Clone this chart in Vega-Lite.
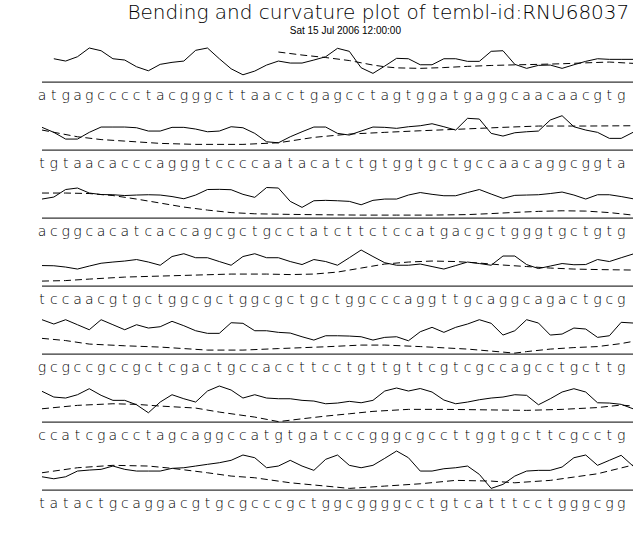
{
"$schema": "https://vega.github.io/schema/vega-lite/v6.json",
"padding": {"left": 37, "top": 3, "right": 0, "bottom": 0},
"background": "white",
"title": {"text": "Bending and curvature plot of tembl-id:RNU68037", "fontSize": 20, "font": "DejaVu Sans", "fontWeight": 200, "anchor": "middle", "dx": 42, "offset": 2.5, "color": "black"},
"config": {"view": {"stroke": null}, "facet": {"spacing": 0}},
"data": {"values": [
{"r":1,"k":"b","p":1,"v":23.3},{"r":1,"k":"b","p":2,"v":21},{"r":1,"k":"b","p":3,"v":25.3},{"r":1,"k":"b","p":4,"v":34},{"r":1,"k":"b","p":5,"v":31.3},{"r":1,"k":"b","p":6,"v":23.3},{"r":1,"k":"b","p":7,"v":22},{"r":1,"k":"b","p":8,"v":15.3},{"r":1,"k":"b","p":9,"v":11.3},{"r":1,"k":"b","p":10,"v":17.7},{"r":1,"k":"b","p":11,"v":19.7},{"r":1,"k":"b","p":12,"v":21},{"r":1,"k":"b","p":13,"v":31.7},{"r":1,"k":"b","p":14,"v":34},{"r":1,"k":"b","p":15,"v":23.3},{"r":1,"k":"b","p":16,"v":13.3},{"r":1,"k":"b","p":17,"v":7.3},{"r":1,"k":"b","p":18,"v":11},{"r":1,"k":"b","p":19,"v":17},{"r":1,"k":"b","p":20,"v":21},{"r":1,"k":"b","p":21,"v":19},{"r":1,"k":"b","p":22,"v":19},{"r":1,"k":"b","p":23,"v":22},{"r":1,"k":"b","p":24,"v":25.3},{"r":1,"k":"b","p":25,"v":33.7},{"r":1,"k":"b","p":26,"v":30.7},{"r":1,"k":"b","p":27,"v":14.3},{"r":1,"k":"b","p":28,"v":8.7},{"r":1,"k":"b","p":29,"v":16},{"r":1,"k":"b","p":30,"v":23.7},{"r":1,"k":"b","p":31,"v":23.3},{"r":1,"k":"b","p":32,"v":17.3},{"r":1,"k":"b","p":33,"v":17.3},{"r":1,"k":"b","p":34,"v":23.3},{"r":1,"k":"b","p":35,"v":23.3},{"r":1,"k":"b","p":36,"v":20.7},{"r":1,"k":"b","p":37,"v":20.7},{"r":1,"k":"b","p":38,"v":30.7},{"r":1,"k":"b","p":39,"v":31.3},{"r":1,"k":"b","p":40,"v":17.7},{"r":1,"k":"b","p":41,"v":13.7},{"r":1,"k":"b","p":42,"v":16.7},{"r":1,"k":"b","p":43,"v":17},{"r":1,"k":"b","p":44,"v":13.7},{"r":1,"k":"b","p":45,"v":17.3},{"r":1,"k":"b","p":46,"v":20.7},{"r":1,"k":"b","p":47,"v":23.3},{"r":1,"k":"b","p":48,"v":22.7},{"r":1,"k":"b","p":49,"v":22.7},{"r":1,"k":"b","p":50,"v":22.7},
{"r":1,"k":"c","p":20,"v":30},{"r":1,"k":"c","p":22,"v":27},{"r":1,"k":"c","p":24,"v":24.5},{"r":1,"k":"c","p":26,"v":21.5},{"r":1,"k":"c","p":28,"v":17},{"r":1,"k":"c","p":29,"v":15.3},{"r":1,"k":"c","p":30,"v":14.2},{"r":1,"k":"c","p":32,"v":13.7},{"r":1,"k":"c","p":34,"v":14.5},{"r":1,"k":"c","p":36,"v":15.7},{"r":1,"k":"c","p":38,"v":16.6},{"r":1,"k":"c","p":40,"v":17.2},{"r":1,"k":"c","p":42,"v":17.7},{"r":1,"k":"c","p":44,"v":18.3},{"r":1,"k":"c","p":46,"v":19.2},{"r":1,"k":"c","p":48,"v":20},{"r":1,"k":"c","p":50,"v":18.7},
{"r":2,"k":"b","p":0,"v":22.7},{"r":2,"k":"b","p":1,"v":17.7},{"r":2,"k":"b","p":2,"v":11},{"r":2,"k":"b","p":3,"v":11},{"r":2,"k":"b","p":4,"v":17.7},{"r":2,"k":"b","p":5,"v":23},{"r":2,"k":"b","p":6,"v":23},{"r":2,"k":"b","p":7,"v":23},{"r":2,"k":"b","p":8,"v":22.3},{"r":2,"k":"b","p":9,"v":19},{"r":2,"k":"b","p":10,"v":19},{"r":2,"k":"b","p":11,"v":22.7},{"r":2,"k":"b","p":12,"v":22.7},{"r":2,"k":"b","p":13,"v":21},{"r":2,"k":"b","p":14,"v":18.3},{"r":2,"k":"b","p":15,"v":19},{"r":2,"k":"b","p":16,"v":23.3},{"r":2,"k":"b","p":17,"v":22.3},{"r":2,"k":"b","p":18,"v":16.7},{"r":2,"k":"b","p":19,"v":8.3},{"r":2,"k":"b","p":20,"v":7.3},{"r":2,"k":"b","p":21,"v":13.3},{"r":2,"k":"b","p":22,"v":18.3},{"r":2,"k":"b","p":23,"v":23},{"r":2,"k":"b","p":24,"v":23},{"r":2,"k":"b","p":25,"v":16.7},{"r":2,"k":"b","p":26,"v":15},{"r":2,"k":"b","p":27,"v":19},{"r":2,"k":"b","p":28,"v":23},{"r":2,"k":"b","p":29,"v":22.7},{"r":2,"k":"b","p":30,"v":21.7},{"r":2,"k":"b","p":31,"v":23.3},{"r":2,"k":"b","p":32,"v":24.3},{"r":2,"k":"b","p":33,"v":26.3},{"r":2,"k":"b","p":34,"v":23.3},{"r":2,"k":"b","p":35,"v":20},{"r":2,"k":"b","p":36,"v":31.7},{"r":2,"k":"b","p":37,"v":31},{"r":2,"k":"b","p":38,"v":16.7},{"r":2,"k":"b","p":39,"v":14},{"r":2,"k":"b","p":40,"v":17.3},{"r":2,"k":"b","p":41,"v":18.3},{"r":2,"k":"b","p":42,"v":19},{"r":2,"k":"b","p":43,"v":30},{"r":2,"k":"b","p":44,"v":34.3},{"r":2,"k":"b","p":45,"v":23.3},{"r":2,"k":"b","p":46,"v":20},{"r":2,"k":"b","p":47,"v":17.7},{"r":2,"k":"b","p":48,"v":11.7},{"r":2,"k":"b","p":49,"v":11.7},{"r":2,"k":"b","p":50,"v":17.7},
{"r":2,"k":"c","p":0,"v":20},{"r":2,"k":"c","p":3,"v":13.3},{"r":2,"k":"c","p":5,"v":10.5},{"r":2,"k":"c","p":7,"v":9},{"r":2,"k":"c","p":10,"v":6.7},{"r":2,"k":"c","p":13,"v":5.7},{"r":2,"k":"c","p":17,"v":5.7},{"r":2,"k":"c","p":20,"v":7.3},{"r":2,"k":"c","p":23,"v":12.7},{"r":2,"k":"c","p":26,"v":16},{"r":2,"k":"c","p":29,"v":17.7},{"r":2,"k":"c","p":32,"v":19.3},{"r":2,"k":"c","p":35,"v":20.7},{"r":2,"k":"c","p":39,"v":22.7},{"r":2,"k":"c","p":42,"v":24},{"r":2,"k":"c","p":46,"v":24},{"r":2,"k":"c","p":50,"v":24.3},
{"r":3,"k":"b","p":0,"v":19},{"r":3,"k":"b","p":1,"v":21},{"r":3,"k":"b","p":2,"v":28.5},{"r":3,"k":"b","p":3,"v":30},{"r":3,"k":"b","p":4,"v":25},{"r":3,"k":"b","p":5,"v":23.5},{"r":3,"k":"b","p":6,"v":23.3},{"r":3,"k":"b","p":7,"v":22.5},{"r":3,"k":"b","p":8,"v":23},{"r":3,"k":"b","p":9,"v":23.3},{"r":3,"k":"b","p":10,"v":23},{"r":3,"k":"b","p":11,"v":21.5},{"r":3,"k":"b","p":12,"v":19.3},{"r":3,"k":"b","p":13,"v":23},{"r":3,"k":"b","p":14,"v":28.5},{"r":3,"k":"b","p":15,"v":28.7},{"r":3,"k":"b","p":16,"v":28.3},{"r":3,"k":"b","p":17,"v":23.7},{"r":3,"k":"b","p":18,"v":20.7},{"r":3,"k":"b","p":19,"v":30.5},{"r":3,"k":"b","p":20,"v":30},{"r":3,"k":"b","p":21,"v":16.7},{"r":3,"k":"b","p":22,"v":10.7},{"r":3,"k":"b","p":23,"v":17.3},{"r":3,"k":"b","p":24,"v":17.7},{"r":3,"k":"b","p":25,"v":17.3},{"r":3,"k":"b","p":26,"v":16.7},{"r":3,"k":"b","p":27,"v":13.3},{"r":3,"k":"b","p":28,"v":17.7},{"r":3,"k":"b","p":29,"v":19},{"r":3,"k":"b","p":30,"v":19},{"r":3,"k":"b","p":31,"v":23},{"r":3,"k":"b","p":32,"v":25.5},{"r":3,"k":"b","p":33,"v":23.7},{"r":3,"k":"b","p":34,"v":22.3},{"r":3,"k":"b","p":35,"v":22.3},{"r":3,"k":"b","p":36,"v":25.5},{"r":3,"k":"b","p":37,"v":28.5},{"r":3,"k":"b","p":38,"v":24},{"r":3,"k":"b","p":39,"v":19.7},{"r":3,"k":"b","p":40,"v":22.7},{"r":3,"k":"b","p":41,"v":23},{"r":3,"k":"b","p":42,"v":23.3},{"r":3,"k":"b","p":43,"v":24.5},{"r":3,"k":"b","p":44,"v":26},{"r":3,"k":"b","p":45,"v":23},{"r":3,"k":"b","p":46,"v":19},{"r":3,"k":"b","p":47,"v":23.3},{"r":3,"k":"b","p":48,"v":23.3},{"r":3,"k":"b","p":49,"v":21.5},{"r":3,"k":"b","p":50,"v":19.3},
{"r":3,"k":"c","p":0,"v":25},{"r":3,"k":"c","p":2,"v":25},{"r":3,"k":"c","p":4,"v":24.5},{"r":3,"k":"c","p":6,"v":22.5},{"r":3,"k":"c","p":8,"v":19},{"r":3,"k":"c","p":10,"v":15},{"r":3,"k":"c","p":12,"v":11},{"r":3,"k":"c","p":14,"v":8},{"r":3,"k":"c","p":16,"v":5.5},{"r":3,"k":"c","p":18,"v":4.3},{"r":3,"k":"c","p":21,"v":3.7},{"r":3,"k":"c","p":24,"v":3.3},{"r":3,"k":"c","p":27,"v":3},{"r":3,"k":"c","p":30,"v":3},{"r":3,"k":"c","p":33,"v":3},{"r":3,"k":"c","p":36,"v":3.5},{"r":3,"k":"c","p":38,"v":4.5},{"r":3,"k":"c","p":40,"v":5.7},{"r":3,"k":"c","p":42,"v":6.7},{"r":3,"k":"c","p":44,"v":7.3},{"r":3,"k":"c","p":46,"v":7},{"r":3,"k":"c","p":48,"v":5.5},{"r":3,"k":"c","p":50,"v":3},
{"r":4,"k":"b","p":0,"v":20.5},{"r":4,"k":"b","p":1,"v":20.3},{"r":4,"k":"b","p":2,"v":19},{"r":4,"k":"b","p":3,"v":17},{"r":4,"k":"b","p":4,"v":20},{"r":4,"k":"b","p":5,"v":22.8},{"r":4,"k":"b","p":6,"v":24},{"r":4,"k":"b","p":7,"v":25},{"r":4,"k":"b","p":8,"v":26.5},{"r":4,"k":"b","p":9,"v":24},{"r":4,"k":"b","p":10,"v":20.8},{"r":4,"k":"b","p":11,"v":29.5},{"r":4,"k":"b","p":12,"v":32.3},{"r":4,"k":"b","p":13,"v":28.3},{"r":4,"k":"b","p":14,"v":28.3},{"r":4,"k":"b","p":15,"v":24.5},{"r":4,"k":"b","p":16,"v":20.8},{"r":4,"k":"b","p":17,"v":29.5},{"r":4,"k":"b","p":18,"v":32.3},{"r":4,"k":"b","p":19,"v":28.3},{"r":4,"k":"b","p":20,"v":28.3},{"r":4,"k":"b","p":21,"v":24.5},{"r":4,"k":"b","p":22,"v":21.5},{"r":4,"k":"b","p":23,"v":26.5},{"r":4,"k":"b","p":24,"v":24.5},{"r":4,"k":"b","p":25,"v":20.8},{"r":4,"k":"b","p":26,"v":28.3},{"r":4,"k":"b","p":27,"v":36},{"r":4,"k":"b","p":28,"v":29.5},{"r":4,"k":"b","p":29,"v":23.3},{"r":4,"k":"b","p":30,"v":20.8},{"r":4,"k":"b","p":31,"v":20.8},{"r":4,"k":"b","p":32,"v":22},{"r":4,"k":"b","p":33,"v":19.5},{"r":4,"k":"b","p":34,"v":17},{"r":4,"k":"b","p":35,"v":20.5},{"r":4,"k":"b","p":36,"v":24},{"r":4,"k":"b","p":37,"v":22.5},{"r":4,"k":"b","p":38,"v":20.8},{"r":4,"k":"b","p":39,"v":30},{"r":4,"k":"b","p":40,"v":30},{"r":4,"k":"b","p":41,"v":21.5},{"r":4,"k":"b","p":42,"v":17.5},{"r":4,"k":"b","p":43,"v":20},{"r":4,"k":"b","p":44,"v":22.5},{"r":4,"k":"b","p":45,"v":21.3},{"r":4,"k":"b","p":46,"v":21.5},{"r":4,"k":"b","p":47,"v":26.5},{"r":4,"k":"b","p":48,"v":24.5},{"r":4,"k":"b","p":49,"v":28.3},{"r":4,"k":"b","p":50,"v":32},
{"r":4,"k":"c","p":0,"v":5},{"r":4,"k":"c","p":2,"v":5.5},{"r":4,"k":"c","p":4,"v":7},{"r":4,"k":"c","p":7,"v":9},{"r":4,"k":"c","p":10,"v":10},{"r":4,"k":"c","p":13,"v":11},{"r":4,"k":"c","p":16,"v":12},{"r":4,"k":"c","p":19,"v":12},{"r":4,"k":"c","p":21,"v":11.5},{"r":4,"k":"c","p":23,"v":12},{"r":4,"k":"c","p":25,"v":14},{"r":4,"k":"c","p":27,"v":18},{"r":4,"k":"c","p":29,"v":22},{"r":4,"k":"c","p":31,"v":24},{"r":4,"k":"c","p":33,"v":25},{"r":4,"k":"c","p":35,"v":24.5},{"r":4,"k":"c","p":37,"v":23},{"r":4,"k":"c","p":39,"v":21},{"r":4,"k":"c","p":41,"v":19.5},{"r":4,"k":"c","p":43,"v":18},{"r":4,"k":"c","p":45,"v":17},{"r":4,"k":"c","p":47,"v":16.5},{"r":4,"k":"c","p":50,"v":16},
{"r":5,"k":"b","p":0,"v":34.3},{"r":5,"k":"b","p":1,"v":30},{"r":5,"k":"b","p":2,"v":34.3},{"r":5,"k":"b","p":3,"v":29.3},{"r":5,"k":"b","p":4,"v":24.3},{"r":5,"k":"b","p":5,"v":34.3},{"r":5,"k":"b","p":6,"v":29.3},{"r":5,"k":"b","p":7,"v":24.3},{"r":5,"k":"b","p":8,"v":29.3},{"r":5,"k":"b","p":9,"v":26},{"r":5,"k":"b","p":10,"v":27.3},{"r":5,"k":"b","p":11,"v":32.7},{"r":5,"k":"b","p":12,"v":28.3},{"r":5,"k":"b","p":13,"v":23.3},{"r":5,"k":"b","p":14,"v":20.7},{"r":5,"k":"b","p":15,"v":20.7},{"r":5,"k":"b","p":16,"v":31.3},{"r":5,"k":"b","p":17,"v":30.7},{"r":5,"k":"b","p":18,"v":23.3},{"r":5,"k":"b","p":19,"v":23.3},{"r":5,"k":"b","p":20,"v":21.7},{"r":5,"k":"b","p":21,"v":21},{"r":5,"k":"b","p":22,"v":17.3},{"r":5,"k":"b","p":23,"v":14},{"r":5,"k":"b","p":24,"v":18.3},{"r":5,"k":"b","p":25,"v":18.3},{"r":5,"k":"b","p":26,"v":18},{"r":5,"k":"b","p":27,"v":17.3},{"r":5,"k":"b","p":28,"v":14},{"r":5,"k":"b","p":29,"v":16.7},{"r":5,"k":"b","p":30,"v":17.3},{"r":5,"k":"b","p":31,"v":13.3},{"r":5,"k":"b","p":32,"v":22.3},{"r":5,"k":"b","p":33,"v":26.7},{"r":5,"k":"b","p":34,"v":21.7},{"r":5,"k":"b","p":35,"v":26.7},{"r":5,"k":"b","p":36,"v":30},{"r":5,"k":"b","p":37,"v":34.3},{"r":5,"k":"b","p":38,"v":30.7},{"r":5,"k":"b","p":39,"v":19},{"r":5,"k":"b","p":40,"v":23.3},{"r":5,"k":"b","p":41,"v":34.3},{"r":5,"k":"b","p":42,"v":31},{"r":5,"k":"b","p":43,"v":19},{"r":5,"k":"b","p":44,"v":20},{"r":5,"k":"b","p":45,"v":26},{"r":5,"k":"b","p":46,"v":25},{"r":5,"k":"b","p":47,"v":16.7},{"r":5,"k":"b","p":48,"v":18.3},{"r":5,"k":"b","p":49,"v":31.7},{"r":5,"k":"b","p":50,"v":31},
{"r":5,"k":"c","p":0,"v":15.7},{"r":5,"k":"c","p":2,"v":13.5},{"r":5,"k":"c","p":4,"v":10},{"r":5,"k":"c","p":7,"v":8.3},{"r":5,"k":"c","p":10,"v":7},{"r":5,"k":"c","p":12,"v":5.5},{"r":5,"k":"c","p":14,"v":4},{"r":5,"k":"c","p":17,"v":4},{"r":5,"k":"c","p":20,"v":5.5},{"r":5,"k":"c","p":24,"v":7.3},{"r":5,"k":"c","p":27,"v":9},{"r":5,"k":"c","p":29,"v":9},{"r":5,"k":"c","p":32,"v":7.5},{"r":5,"k":"c","p":36,"v":5},{"r":5,"k":"c","p":39,"v":2},{"r":5,"k":"c","p":40,"v":1},{"r":5,"k":"c","p":41,"v":2.5},{"r":5,"k":"c","p":43,"v":5},{"r":5,"k":"c","p":45,"v":6.5},{"r":5,"k":"c","p":47,"v":7.5},{"r":5,"k":"c","p":49,"v":10.5},{"r":5,"k":"c","p":50,"v":12.7},
{"r":6,"k":"b","p":0,"v":30.7},{"r":6,"k":"b","p":1,"v":25},{"r":6,"k":"b","p":2,"v":24},{"r":6,"k":"b","p":3,"v":27.3},{"r":6,"k":"b","p":4,"v":33.3},{"r":6,"k":"b","p":5,"v":26.7},{"r":6,"k":"b","p":6,"v":21.7},{"r":6,"k":"b","p":7,"v":21.7},{"r":6,"k":"b","p":8,"v":17.3},{"r":6,"k":"b","p":9,"v":9.3},{"r":6,"k":"b","p":10,"v":20},{"r":6,"k":"b","p":11,"v":27.3},{"r":6,"k":"b","p":12,"v":23.3},{"r":6,"k":"b","p":13,"v":20},{"r":6,"k":"b","p":14,"v":31},{"r":6,"k":"b","p":15,"v":36},{"r":6,"k":"b","p":16,"v":32},{"r":6,"k":"b","p":17,"v":24},{"r":6,"k":"b","p":18,"v":27.3},{"r":6,"k":"b","p":19,"v":24},{"r":6,"k":"b","p":20,"v":23.3},{"r":6,"k":"b","p":21,"v":23.3},{"r":6,"k":"b","p":22,"v":21.7},{"r":6,"k":"b","p":23,"v":21},{"r":6,"k":"b","p":24,"v":18.3},{"r":6,"k":"b","p":25,"v":19},{"r":6,"k":"b","p":26,"v":20.7},{"r":6,"k":"b","p":27,"v":19.3},{"r":6,"k":"b","p":28,"v":21.7},{"r":6,"k":"b","p":29,"v":31},{"r":6,"k":"b","p":30,"v":34},{"r":6,"k":"b","p":31,"v":31},{"r":6,"k":"b","p":32,"v":33.5},{"r":6,"k":"b","p":33,"v":30},{"r":6,"k":"b","p":34,"v":22},{"r":6,"k":"b","p":35,"v":18.3},{"r":6,"k":"b","p":36,"v":20},{"r":6,"k":"b","p":37,"v":22.3},{"r":6,"k":"b","p":38,"v":24},{"r":6,"k":"b","p":39,"v":25},{"r":6,"k":"b","p":40,"v":27.3},{"r":6,"k":"b","p":41,"v":26.7},{"r":6,"k":"b","p":42,"v":17.3},{"r":6,"k":"b","p":43,"v":23.3},{"r":6,"k":"b","p":44,"v":30},{"r":6,"k":"b","p":45,"v":33.3},{"r":6,"k":"b","p":46,"v":30},{"r":6,"k":"b","p":47,"v":19.3},{"r":6,"k":"b","p":48,"v":19},{"r":6,"k":"b","p":49,"v":17.7},{"r":6,"k":"b","p":50,"v":13.3},
{"r":6,"k":"c","p":0,"v":13.3},{"r":6,"k":"c","p":3,"v":16.7},{"r":6,"k":"c","p":6,"v":18.3},{"r":6,"k":"c","p":8,"v":17.7},{"r":6,"k":"c","p":10,"v":16},{"r":6,"k":"c","p":13,"v":14},{"r":6,"k":"c","p":15,"v":10},{"r":6,"k":"c","p":18,"v":5},{"r":6,"k":"c","p":20,"v":0.5},{"r":6,"k":"c","p":22,"v":3.3},{"r":6,"k":"c","p":24,"v":6},{"r":6,"k":"c","p":26,"v":8.3},{"r":6,"k":"c","p":28,"v":10.7},{"r":6,"k":"c","p":31,"v":12.7},{"r":6,"k":"c","p":34,"v":12.7},{"r":6,"k":"c","p":37,"v":12.3},{"r":6,"k":"c","p":41,"v":11.7},{"r":6,"k":"c","p":44,"v":12.7},{"r":6,"k":"c","p":47,"v":14.5},{"r":6,"k":"c","p":49,"v":17},{"r":6,"k":"c","p":50,"v":16},
{"r":7,"k":"b","p":0,"v":13.3},{"r":7,"k":"b","p":1,"v":11.3},{"r":7,"k":"b","p":2,"v":13.3},{"r":7,"k":"b","p":3,"v":19},{"r":7,"k":"b","p":4,"v":20},{"r":7,"k":"b","p":5,"v":20.7},{"r":7,"k":"b","p":6,"v":24},{"r":7,"k":"b","p":7,"v":20.7},{"r":7,"k":"b","p":8,"v":19},{"r":7,"k":"b","p":9,"v":19},{"r":7,"k":"b","p":10,"v":19},{"r":7,"k":"b","p":11,"v":21.7},{"r":7,"k":"b","p":12,"v":22.3},{"r":7,"k":"b","p":13,"v":24},{"r":7,"k":"b","p":14,"v":25.7},{"r":7,"k":"b","p":15,"v":27.3},{"r":7,"k":"b","p":16,"v":29.7},{"r":7,"k":"b","p":17,"v":35},{"r":7,"k":"b","p":18,"v":32.3},{"r":7,"k":"b","p":19,"v":22.3},{"r":7,"k":"b","p":20,"v":24},{"r":7,"k":"b","p":21,"v":29.7},{"r":7,"k":"b","p":22,"v":24},{"r":7,"k":"b","p":23,"v":19.7},{"r":7,"k":"b","p":24,"v":30.7},{"r":7,"k":"b","p":25,"v":35},{"r":7,"k":"b","p":26,"v":24.7},{"r":7,"k":"b","p":27,"v":22.3},{"r":7,"k":"b","p":28,"v":24.7},{"r":7,"k":"b","p":29,"v":31.7},{"r":7,"k":"b","p":30,"v":39},{"r":7,"k":"b","p":31,"v":32.3},{"r":7,"k":"b","p":32,"v":19},{"r":7,"k":"b","p":33,"v":19},{"r":7,"k":"b","p":34,"v":21.3},{"r":7,"k":"b","p":35,"v":22.3},{"r":7,"k":"b","p":36,"v":24},{"r":7,"k":"b","p":37,"v":15.7},{"r":7,"k":"b","p":38,"v":1.7},{"r":7,"k":"b","p":39,"v":5.7},{"r":7,"k":"b","p":40,"v":14},{"r":7,"k":"b","p":41,"v":19},{"r":7,"k":"b","p":42,"v":19.7},{"r":7,"k":"b","p":43,"v":19.7},{"r":7,"k":"b","p":44,"v":23},{"r":7,"k":"b","p":45,"v":32.3},{"r":7,"k":"b","p":46,"v":35},{"r":7,"k":"b","p":47,"v":24.7},{"r":7,"k":"b","p":48,"v":29.7},{"r":7,"k":"b","p":49,"v":34.7},{"r":7,"k":"b","p":50,"v":24},
{"r":7,"k":"c","p":0,"v":17.3},{"r":7,"k":"c","p":3,"v":22.3},{"r":7,"k":"c","p":6,"v":24.7},{"r":7,"k":"c","p":9,"v":24},{"r":7,"k":"c","p":11,"v":21.7},{"r":7,"k":"c","p":14,"v":17.3},{"r":7,"k":"c","p":16,"v":14},{"r":7,"k":"c","p":18,"v":12.3},{"r":7,"k":"c","p":21,"v":7.3},{"r":7,"k":"c","p":24,"v":4},{"r":7,"k":"c","p":26,"v":1.7},{"r":7,"k":"c","p":29,"v":4},{"r":7,"k":"c","p":32,"v":6.3},{"r":7,"k":"c","p":35,"v":9.7},{"r":7,"k":"c","p":38,"v":9},{"r":7,"k":"c","p":40,"v":7.3},{"r":7,"k":"c","p":43,"v":9.7},{"r":7,"k":"c","p":45,"v":13},{"r":7,"k":"c","p":47,"v":16.3},{"r":7,"k":"c","p":50,"v":25},
{"r":1,"k":"s","p":0,"b":"a"},{"r":1,"k":"s","p":1,"b":"t"},{"r":1,"k":"s","p":2,"b":"g"},{"r":1,"k":"s","p":3,"b":"a"},{"r":1,"k":"s","p":4,"b":"g"},{"r":1,"k":"s","p":5,"b":"c"},{"r":1,"k":"s","p":6,"b":"c"},{"r":1,"k":"s","p":7,"b":"c"},{"r":1,"k":"s","p":8,"b":"c"},{"r":1,"k":"s","p":9,"b":"t"},{"r":1,"k":"s","p":10,"b":"a"},{"r":1,"k":"s","p":11,"b":"c"},{"r":1,"k":"s","p":12,"b":"g"},{"r":1,"k":"s","p":13,"b":"g"},{"r":1,"k":"s","p":14,"b":"g"},{"r":1,"k":"s","p":15,"b":"c"},{"r":1,"k":"s","p":16,"b":"t"},{"r":1,"k":"s","p":17,"b":"t"},{"r":1,"k":"s","p":18,"b":"a"},{"r":1,"k":"s","p":19,"b":"a"},{"r":1,"k":"s","p":20,"b":"c"},{"r":1,"k":"s","p":21,"b":"c"},{"r":1,"k":"s","p":22,"b":"t"},{"r":1,"k":"s","p":23,"b":"g"},{"r":1,"k":"s","p":24,"b":"a"},{"r":1,"k":"s","p":25,"b":"g"},{"r":1,"k":"s","p":26,"b":"c"},{"r":1,"k":"s","p":27,"b":"c"},{"r":1,"k":"s","p":28,"b":"t"},{"r":1,"k":"s","p":29,"b":"a"},{"r":1,"k":"s","p":30,"b":"g"},{"r":1,"k":"s","p":31,"b":"t"},{"r":1,"k":"s","p":32,"b":"g"},{"r":1,"k":"s","p":33,"b":"g"},{"r":1,"k":"s","p":34,"b":"a"},{"r":1,"k":"s","p":35,"b":"t"},{"r":1,"k":"s","p":36,"b":"g"},{"r":1,"k":"s","p":37,"b":"a"},{"r":1,"k":"s","p":38,"b":"g"},{"r":1,"k":"s","p":39,"b":"g"},{"r":1,"k":"s","p":40,"b":"c"},{"r":1,"k":"s","p":41,"b":"a"},{"r":1,"k":"s","p":42,"b":"a"},{"r":1,"k":"s","p":43,"b":"c"},{"r":1,"k":"s","p":44,"b":"a"},{"r":1,"k":"s","p":45,"b":"a"},{"r":1,"k":"s","p":46,"b":"c"},{"r":1,"k":"s","p":47,"b":"g"},{"r":1,"k":"s","p":48,"b":"t"},{"r":1,"k":"s","p":49,"b":"g"},
{"r":2,"k":"s","p":0,"b":"t"},{"r":2,"k":"s","p":1,"b":"g"},{"r":2,"k":"s","p":2,"b":"t"},{"r":2,"k":"s","p":3,"b":"a"},{"r":2,"k":"s","p":4,"b":"a"},{"r":2,"k":"s","p":5,"b":"c"},{"r":2,"k":"s","p":6,"b":"a"},{"r":2,"k":"s","p":7,"b":"c"},{"r":2,"k":"s","p":8,"b":"c"},{"r":2,"k":"s","p":9,"b":"c"},{"r":2,"k":"s","p":10,"b":"a"},{"r":2,"k":"s","p":11,"b":"g"},{"r":2,"k":"s","p":12,"b":"g"},{"r":2,"k":"s","p":13,"b":"g"},{"r":2,"k":"s","p":14,"b":"t"},{"r":2,"k":"s","p":15,"b":"c"},{"r":2,"k":"s","p":16,"b":"c"},{"r":2,"k":"s","p":17,"b":"c"},{"r":2,"k":"s","p":18,"b":"c"},{"r":2,"k":"s","p":19,"b":"a"},{"r":2,"k":"s","p":20,"b":"a"},{"r":2,"k":"s","p":21,"b":"t"},{"r":2,"k":"s","p":22,"b":"a"},{"r":2,"k":"s","p":23,"b":"c"},{"r":2,"k":"s","p":24,"b":"a"},{"r":2,"k":"s","p":25,"b":"t"},{"r":2,"k":"s","p":26,"b":"c"},{"r":2,"k":"s","p":27,"b":"t"},{"r":2,"k":"s","p":28,"b":"g"},{"r":2,"k":"s","p":29,"b":"t"},{"r":2,"k":"s","p":30,"b":"g"},{"r":2,"k":"s","p":31,"b":"g"},{"r":2,"k":"s","p":32,"b":"t"},{"r":2,"k":"s","p":33,"b":"g"},{"r":2,"k":"s","p":34,"b":"c"},{"r":2,"k":"s","p":35,"b":"t"},{"r":2,"k":"s","p":36,"b":"g"},{"r":2,"k":"s","p":37,"b":"c"},{"r":2,"k":"s","p":38,"b":"c"},{"r":2,"k":"s","p":39,"b":"a"},{"r":2,"k":"s","p":40,"b":"a"},{"r":2,"k":"s","p":41,"b":"c"},{"r":2,"k":"s","p":42,"b":"a"},{"r":2,"k":"s","p":43,"b":"g"},{"r":2,"k":"s","p":44,"b":"g"},{"r":2,"k":"s","p":45,"b":"c"},{"r":2,"k":"s","p":46,"b":"g"},{"r":2,"k":"s","p":47,"b":"g"},{"r":2,"k":"s","p":48,"b":"t"},{"r":2,"k":"s","p":49,"b":"a"},
{"r":3,"k":"s","p":0,"b":"a"},{"r":3,"k":"s","p":1,"b":"c"},{"r":3,"k":"s","p":2,"b":"g"},{"r":3,"k":"s","p":3,"b":"g"},{"r":3,"k":"s","p":4,"b":"c"},{"r":3,"k":"s","p":5,"b":"a"},{"r":3,"k":"s","p":6,"b":"c"},{"r":3,"k":"s","p":7,"b":"a"},{"r":3,"k":"s","p":8,"b":"t"},{"r":3,"k":"s","p":9,"b":"c"},{"r":3,"k":"s","p":10,"b":"a"},{"r":3,"k":"s","p":11,"b":"c"},{"r":3,"k":"s","p":12,"b":"c"},{"r":3,"k":"s","p":13,"b":"a"},{"r":3,"k":"s","p":14,"b":"g"},{"r":3,"k":"s","p":15,"b":"c"},{"r":3,"k":"s","p":16,"b":"g"},{"r":3,"k":"s","p":17,"b":"c"},{"r":3,"k":"s","p":18,"b":"t"},{"r":3,"k":"s","p":19,"b":"g"},{"r":3,"k":"s","p":20,"b":"c"},{"r":3,"k":"s","p":21,"b":"c"},{"r":3,"k":"s","p":22,"b":"t"},{"r":3,"k":"s","p":23,"b":"a"},{"r":3,"k":"s","p":24,"b":"t"},{"r":3,"k":"s","p":25,"b":"c"},{"r":3,"k":"s","p":26,"b":"t"},{"r":3,"k":"s","p":27,"b":"t"},{"r":3,"k":"s","p":28,"b":"c"},{"r":3,"k":"s","p":29,"b":"t"},{"r":3,"k":"s","p":30,"b":"c"},{"r":3,"k":"s","p":31,"b":"c"},{"r":3,"k":"s","p":32,"b":"a"},{"r":3,"k":"s","p":33,"b":"t"},{"r":3,"k":"s","p":34,"b":"g"},{"r":3,"k":"s","p":35,"b":"a"},{"r":3,"k":"s","p":36,"b":"c"},{"r":3,"k":"s","p":37,"b":"g"},{"r":3,"k":"s","p":38,"b":"c"},{"r":3,"k":"s","p":39,"b":"t"},{"r":3,"k":"s","p":40,"b":"g"},{"r":3,"k":"s","p":41,"b":"g"},{"r":3,"k":"s","p":42,"b":"g"},{"r":3,"k":"s","p":43,"b":"t"},{"r":3,"k":"s","p":44,"b":"g"},{"r":3,"k":"s","p":45,"b":"c"},{"r":3,"k":"s","p":46,"b":"t"},{"r":3,"k":"s","p":47,"b":"g"},{"r":3,"k":"s","p":48,"b":"t"},{"r":3,"k":"s","p":49,"b":"g"},
{"r":4,"k":"s","p":0,"b":"t"},{"r":4,"k":"s","p":1,"b":"c"},{"r":4,"k":"s","p":2,"b":"c"},{"r":4,"k":"s","p":3,"b":"a"},{"r":4,"k":"s","p":4,"b":"a"},{"r":4,"k":"s","p":5,"b":"c"},{"r":4,"k":"s","p":6,"b":"g"},{"r":4,"k":"s","p":7,"b":"t"},{"r":4,"k":"s","p":8,"b":"g"},{"r":4,"k":"s","p":9,"b":"c"},{"r":4,"k":"s","p":10,"b":"t"},{"r":4,"k":"s","p":11,"b":"g"},{"r":4,"k":"s","p":12,"b":"g"},{"r":4,"k":"s","p":13,"b":"c"},{"r":4,"k":"s","p":14,"b":"g"},{"r":4,"k":"s","p":15,"b":"c"},{"r":4,"k":"s","p":16,"b":"t"},{"r":4,"k":"s","p":17,"b":"g"},{"r":4,"k":"s","p":18,"b":"g"},{"r":4,"k":"s","p":19,"b":"c"},{"r":4,"k":"s","p":20,"b":"g"},{"r":4,"k":"s","p":21,"b":"c"},{"r":4,"k":"s","p":22,"b":"t"},{"r":4,"k":"s","p":23,"b":"g"},{"r":4,"k":"s","p":24,"b":"c"},{"r":4,"k":"s","p":25,"b":"t"},{"r":4,"k":"s","p":26,"b":"g"},{"r":4,"k":"s","p":27,"b":"g"},{"r":4,"k":"s","p":28,"b":"c"},{"r":4,"k":"s","p":29,"b":"c"},{"r":4,"k":"s","p":30,"b":"c"},{"r":4,"k":"s","p":31,"b":"a"},{"r":4,"k":"s","p":32,"b":"g"},{"r":4,"k":"s","p":33,"b":"g"},{"r":4,"k":"s","p":34,"b":"t"},{"r":4,"k":"s","p":35,"b":"t"},{"r":4,"k":"s","p":36,"b":"g"},{"r":4,"k":"s","p":37,"b":"c"},{"r":4,"k":"s","p":38,"b":"a"},{"r":4,"k":"s","p":39,"b":"g"},{"r":4,"k":"s","p":40,"b":"g"},{"r":4,"k":"s","p":41,"b":"c"},{"r":4,"k":"s","p":42,"b":"a"},{"r":4,"k":"s","p":43,"b":"g"},{"r":4,"k":"s","p":44,"b":"a"},{"r":4,"k":"s","p":45,"b":"c"},{"r":4,"k":"s","p":46,"b":"t"},{"r":4,"k":"s","p":47,"b":"g"},{"r":4,"k":"s","p":48,"b":"c"},{"r":4,"k":"s","p":49,"b":"g"},
{"r":5,"k":"s","p":0,"b":"g"},{"r":5,"k":"s","p":1,"b":"c"},{"r":5,"k":"s","p":2,"b":"g"},{"r":5,"k":"s","p":3,"b":"c"},{"r":5,"k":"s","p":4,"b":"c"},{"r":5,"k":"s","p":5,"b":"g"},{"r":5,"k":"s","p":6,"b":"c"},{"r":5,"k":"s","p":7,"b":"c"},{"r":5,"k":"s","p":8,"b":"g"},{"r":5,"k":"s","p":9,"b":"c"},{"r":5,"k":"s","p":10,"b":"t"},{"r":5,"k":"s","p":11,"b":"c"},{"r":5,"k":"s","p":12,"b":"g"},{"r":5,"k":"s","p":13,"b":"a"},{"r":5,"k":"s","p":14,"b":"c"},{"r":5,"k":"s","p":15,"b":"t"},{"r":5,"k":"s","p":16,"b":"g"},{"r":5,"k":"s","p":17,"b":"c"},{"r":5,"k":"s","p":18,"b":"c"},{"r":5,"k":"s","p":19,"b":"a"},{"r":5,"k":"s","p":20,"b":"c"},{"r":5,"k":"s","p":21,"b":"c"},{"r":5,"k":"s","p":22,"b":"t"},{"r":5,"k":"s","p":23,"b":"t"},{"r":5,"k":"s","p":24,"b":"c"},{"r":5,"k":"s","p":25,"b":"c"},{"r":5,"k":"s","p":26,"b":"t"},{"r":5,"k":"s","p":27,"b":"g"},{"r":5,"k":"s","p":28,"b":"t"},{"r":5,"k":"s","p":29,"b":"t"},{"r":5,"k":"s","p":30,"b":"g"},{"r":5,"k":"s","p":31,"b":"t"},{"r":5,"k":"s","p":32,"b":"t"},{"r":5,"k":"s","p":33,"b":"c"},{"r":5,"k":"s","p":34,"b":"g"},{"r":5,"k":"s","p":35,"b":"t"},{"r":5,"k":"s","p":36,"b":"c"},{"r":5,"k":"s","p":37,"b":"g"},{"r":5,"k":"s","p":38,"b":"c"},{"r":5,"k":"s","p":39,"b":"c"},{"r":5,"k":"s","p":40,"b":"a"},{"r":5,"k":"s","p":41,"b":"g"},{"r":5,"k":"s","p":42,"b":"c"},{"r":5,"k":"s","p":43,"b":"c"},{"r":5,"k":"s","p":44,"b":"t"},{"r":5,"k":"s","p":45,"b":"g"},{"r":5,"k":"s","p":46,"b":"c"},{"r":5,"k":"s","p":47,"b":"t"},{"r":5,"k":"s","p":48,"b":"t"},{"r":5,"k":"s","p":49,"b":"g"},
{"r":6,"k":"s","p":0,"b":"c"},{"r":6,"k":"s","p":1,"b":"c"},{"r":6,"k":"s","p":2,"b":"a"},{"r":6,"k":"s","p":3,"b":"t"},{"r":6,"k":"s","p":4,"b":"c"},{"r":6,"k":"s","p":5,"b":"g"},{"r":6,"k":"s","p":6,"b":"a"},{"r":6,"k":"s","p":7,"b":"c"},{"r":6,"k":"s","p":8,"b":"c"},{"r":6,"k":"s","p":9,"b":"t"},{"r":6,"k":"s","p":10,"b":"a"},{"r":6,"k":"s","p":11,"b":"g"},{"r":6,"k":"s","p":12,"b":"c"},{"r":6,"k":"s","p":13,"b":"a"},{"r":6,"k":"s","p":14,"b":"g"},{"r":6,"k":"s","p":15,"b":"g"},{"r":6,"k":"s","p":16,"b":"c"},{"r":6,"k":"s","p":17,"b":"c"},{"r":6,"k":"s","p":18,"b":"a"},{"r":6,"k":"s","p":19,"b":"t"},{"r":6,"k":"s","p":20,"b":"g"},{"r":6,"k":"s","p":21,"b":"t"},{"r":6,"k":"s","p":22,"b":"g"},{"r":6,"k":"s","p":23,"b":"a"},{"r":6,"k":"s","p":24,"b":"t"},{"r":6,"k":"s","p":25,"b":"c"},{"r":6,"k":"s","p":26,"b":"c"},{"r":6,"k":"s","p":27,"b":"c"},{"r":6,"k":"s","p":28,"b":"g"},{"r":6,"k":"s","p":29,"b":"g"},{"r":6,"k":"s","p":30,"b":"g"},{"r":6,"k":"s","p":31,"b":"c"},{"r":6,"k":"s","p":32,"b":"g"},{"r":6,"k":"s","p":33,"b":"c"},{"r":6,"k":"s","p":34,"b":"c"},{"r":6,"k":"s","p":35,"b":"t"},{"r":6,"k":"s","p":36,"b":"t"},{"r":6,"k":"s","p":37,"b":"g"},{"r":6,"k":"s","p":38,"b":"g"},{"r":6,"k":"s","p":39,"b":"t"},{"r":6,"k":"s","p":40,"b":"g"},{"r":6,"k":"s","p":41,"b":"c"},{"r":6,"k":"s","p":42,"b":"t"},{"r":6,"k":"s","p":43,"b":"t"},{"r":6,"k":"s","p":44,"b":"c"},{"r":6,"k":"s","p":45,"b":"g"},{"r":6,"k":"s","p":46,"b":"c"},{"r":6,"k":"s","p":47,"b":"c"},{"r":6,"k":"s","p":48,"b":"t"},{"r":6,"k":"s","p":49,"b":"g"},
{"r":7,"k":"s","p":0,"b":"t"},{"r":7,"k":"s","p":1,"b":"a"},{"r":7,"k":"s","p":2,"b":"t"},{"r":7,"k":"s","p":3,"b":"a"},{"r":7,"k":"s","p":4,"b":"c"},{"r":7,"k":"s","p":5,"b":"t"},{"r":7,"k":"s","p":6,"b":"g"},{"r":7,"k":"s","p":7,"b":"c"},{"r":7,"k":"s","p":8,"b":"a"},{"r":7,"k":"s","p":9,"b":"g"},{"r":7,"k":"s","p":10,"b":"g"},{"r":7,"k":"s","p":11,"b":"a"},{"r":7,"k":"s","p":12,"b":"c"},{"r":7,"k":"s","p":13,"b":"g"},{"r":7,"k":"s","p":14,"b":"t"},{"r":7,"k":"s","p":15,"b":"g"},{"r":7,"k":"s","p":16,"b":"c"},{"r":7,"k":"s","p":17,"b":"g"},{"r":7,"k":"s","p":18,"b":"c"},{"r":7,"k":"s","p":19,"b":"c"},{"r":7,"k":"s","p":20,"b":"c"},{"r":7,"k":"s","p":21,"b":"g"},{"r":7,"k":"s","p":22,"b":"c"},{"r":7,"k":"s","p":23,"b":"t"},{"r":7,"k":"s","p":24,"b":"g"},{"r":7,"k":"s","p":25,"b":"g"},{"r":7,"k":"s","p":26,"b":"c"},{"r":7,"k":"s","p":27,"b":"g"},{"r":7,"k":"s","p":28,"b":"g"},{"r":7,"k":"s","p":29,"b":"g"},{"r":7,"k":"s","p":30,"b":"g"},{"r":7,"k":"s","p":31,"b":"c"},{"r":7,"k":"s","p":32,"b":"c"},{"r":7,"k":"s","p":33,"b":"t"},{"r":7,"k":"s","p":34,"b":"g"},{"r":7,"k":"s","p":35,"b":"t"},{"r":7,"k":"s","p":36,"b":"c"},{"r":7,"k":"s","p":37,"b":"a"},{"r":7,"k":"s","p":38,"b":"t"},{"r":7,"k":"s","p":39,"b":"t"},{"r":7,"k":"s","p":40,"b":"t"},{"r":7,"k":"s","p":41,"b":"c"},{"r":7,"k":"s","p":42,"b":"c"},{"r":7,"k":"s","p":43,"b":"t"},{"r":7,"k":"s","p":44,"b":"g"},{"r":7,"k":"s","p":45,"b":"g"},{"r":7,"k":"s","p":46,"b":"g"},{"r":7,"k":"s","p":47,"b":"c"},{"r":7,"k":"s","p":48,"b":"g"},{"r":7,"k":"s","p":49,"b":"g"}
]},
"vconcat": [{
  "title": {"text": "Sat 15 Jul 2006 12:00:00", "fontSize": 10, "font": "Liberation Sans", "fontWeight": "normal", "anchor": "middle", "dx": 9, "offset": 6.5, "color": "black"},
  "facet": {"row": {"field": "r", "type": "ordinal", "header": null}},
  "spacing": 0,
  "spec": {
    "width": 591, "height": 66.17,
    "layer": [
      {"transform": [{"filter": "datum.k == 'b'"}],
       "mark": {"type": "line", "stroke": "black", "strokeWidth": 1},
       "encoding": {
         "x": {"field": "p", "type": "quantitative", "scale": {"domain": [0, 50], "nice": false, "zero": false}, "axis": null},
         "y": {"field": "v", "type": "quantitative", "scale": {"domain": [-26, 40], "nice": false, "zero": false}, "axis": null}}},
      {"transform": [{"filter": "datum.k == 'c'"}],
       "mark": {"type": "line", "stroke": "black", "strokeWidth": 1, "strokeDash": [7, 4]},
       "encoding": {
         "x": {"field": "p", "type": "quantitative"},
         "y": {"field": "v", "type": "quantitative"}}},
      {"transform": [{"filter": "datum.k == 's' && datum.p == 0"}],
       "mark": {"type": "rule", "stroke": "black", "strokeWidth": 1},
       "encoding": {
         "x": {"datum": 0, "type": "quantitative"},
         "x2": {"datum": 50},
         "y": {"datum": 0, "type": "quantitative"}}},
      {"transform": [{"filter": "datum.k == 's'"}],
       "mark": {"type": "text", "font": "DejaVu Sans", "fontWeight": 200, "fontSize": 14, "baseline": "middle", "align": "center", "color": "black"},
       "encoding": {
         "x": {"field": "p", "type": "quantitative"},
         "y": {"datum": -14, "type": "quantitative"},
         "text": {"field": "b"}}}
    ]
  }
}]
}
